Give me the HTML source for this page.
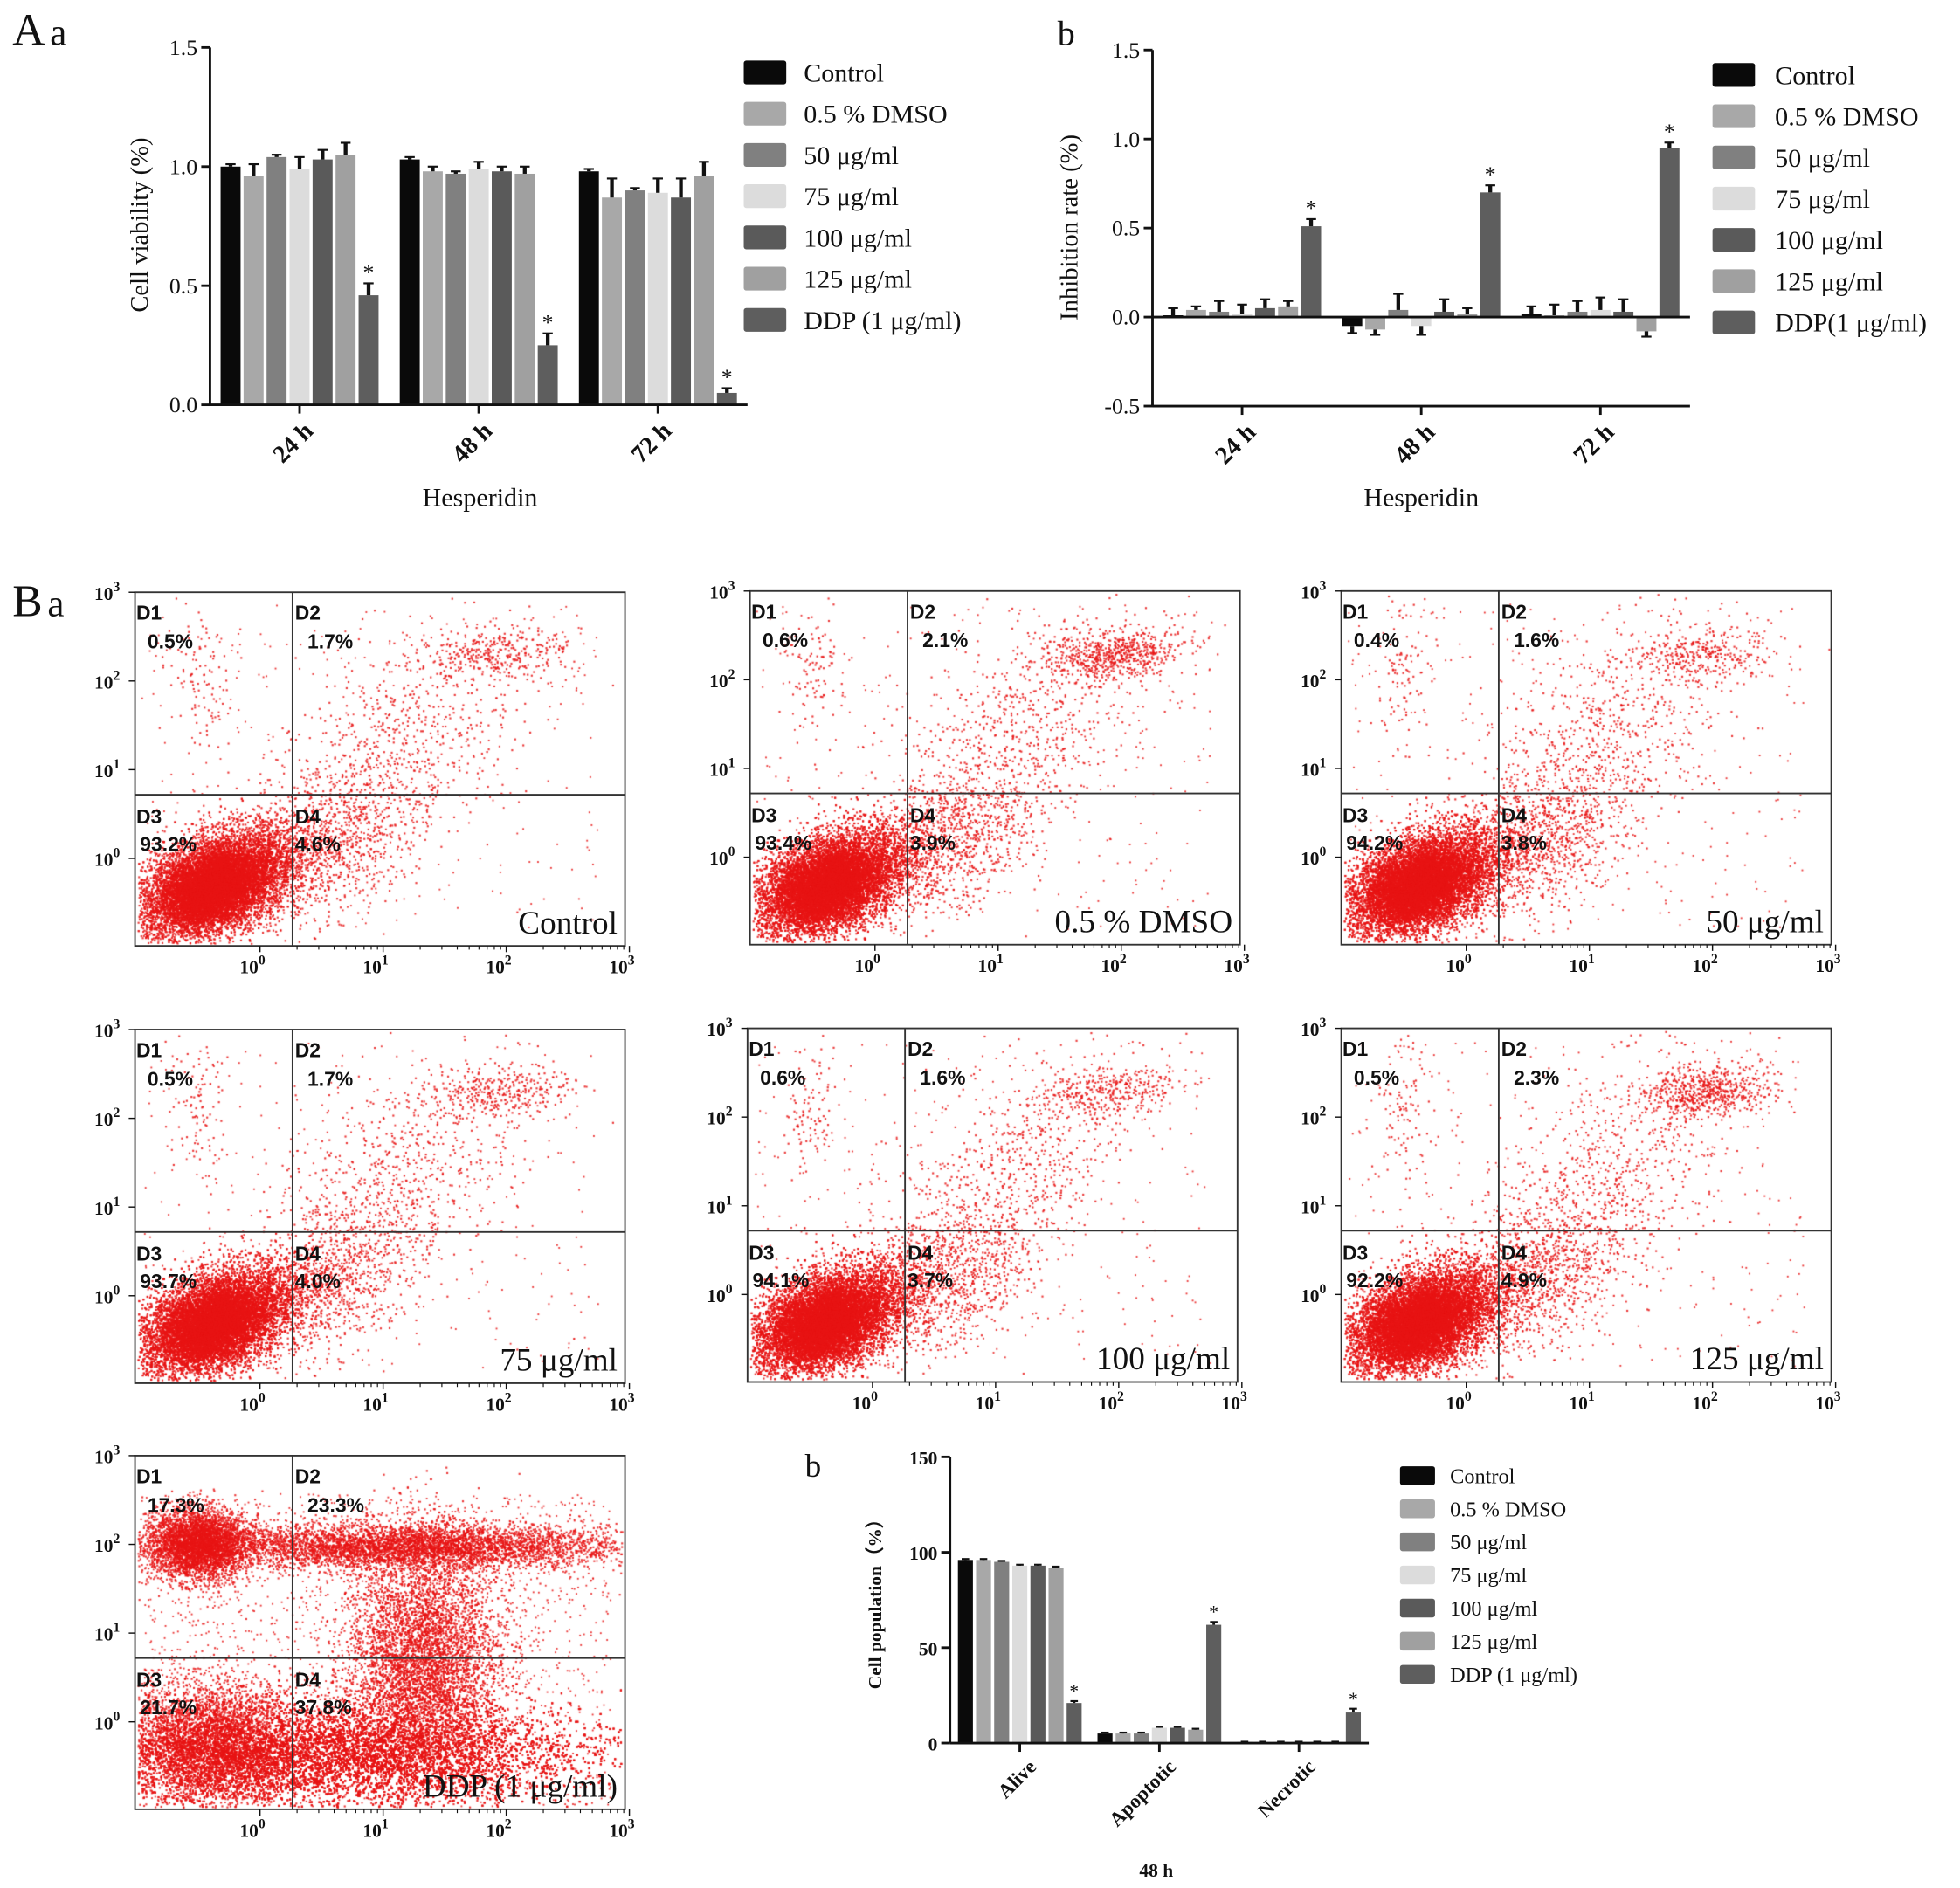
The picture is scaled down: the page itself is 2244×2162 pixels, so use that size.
<!DOCTYPE html>
<html><head><meta charset="utf-8">
<style>
html,body{margin:0;padding:0;background:#fff;}
#wrap{position:relative;width:2244px;height:2162px;overflow:hidden;}
canvas,svg{position:absolute;left:0;top:0;}
</style></head>
<body>
<div id="wrap">
<canvas id="dots" width="2244" height="2162"></canvas>
<svg id="svg" width="2244" height="2162" viewBox="0 0 1568 1511" preserveAspectRatio="none"></svg>
</div>
<script>
// ---- data ----
const seriesNames=['Control','0.5 % DMSO','50 μg/ml','75 μg/ml','100 μg/ml','125 μg/ml','DDP (1 μg/ml)'];
const seriesColors=['#0a0a0a','#a8a8a8','#808080','#dcdcdc','#5a5a5a','#a0a0a0','#5e5e5e'];
const timeGroups=['24 h','48 h','72 h'];
const viabTicks=[0,0.5,1.0,1.5];
const viabVals=[[1.00,1.03,0.98],[0.96,0.98,0.87],[1.04,0.97,0.90],[0.99,0.99,0.89],[1.03,0.98,0.87],[1.05,0.97,0.96],[0.46,0.25,0.05]];
const viabErr=[[0.01,0.01,0.01],[0.05,0.02,0.08],[0.01,0.01,0.01],[0.05,0.03,0.06],[0.04,0.02,0.08],[0.05,0.03,0.06],[0.05,0.05,0.02]];
const inhTicks=[-0.5,0,0.5,1.0,1.5];
const inhVals=[[0.01,-0.05,0.02],[0.04,-0.07,0.01],[0.03,0.04,0.03],[0.02,-0.05,0.04],[0.05,0.03,0.03],[0.06,0.02,-0.08],[0.51,0.70,0.95]];
const inhErr=[[0.04,0.04,0.04],[0.02,0.03,0.06],[0.06,0.09,0.06],[0.05,0.05,0.07],[0.05,0.07,0.07],[0.03,0.03,0.03],[0.04,0.04,0.03]];
const popGroups=['Alive','Apoptotic','Necrotic'];
const popTicks=[0,50,100,150];
const popVals=[[96,5,0.5],[96,5,0.5],[95,5,0.5],[93,8,0.5],[93,8,0.5],[92,7,0.5],[21,62,16]];
const popErr=[[0.5,0.5,0.2],[0.5,0.5,0.2],[0.5,0.5,0.2],[0.5,0.5,0.2],[0.5,0.5,0.2],[0.5,0.5,0.2],[1,1.5,2]];
const flowNames=['Control','0.5 % DMSO','50 μg/ml','75 μg/ml','100 μg/ml','125 μg/ml','DDP (1 μg/ml)'];
const flowD1=['0.5%','0.6%','0.4%','0.5%','0.6%','0.5%','17.3%'];
const flowD2=['1.7%','2.1%','1.6%','1.7%','1.6%','2.3%','23.3%'];
const flowD3=['93.2%','93.4%','94.2%','93.7%','94.1%','92.2%','21.7%'];
const flowD4=['4.6%','3.9%','3.8%','4.0%','3.7%','4.9%','37.8%'];

// ---- helpers ----
const NS='http://www.w3.org/2000/svg';
const svg=document.getElementById('svg');
function mk(tag,attrs,parent){const e=document.createElementNS(NS,tag);for(const k in attrs)e.setAttribute(k,attrs[k]);(parent||svg).appendChild(e);return e;}
function txt(x,y,s,size,opts,parent){opts=opts||{};const t=mk('text',{x:x,y:y,'font-size':size,'font-family':opts.sans?'"Liberation Sans",sans-serif':'"Liberation Serif",serif','text-anchor':opts.anchor||'start','font-weight':opts.bold?'bold':'normal',fill:'#111'},parent);if(opts.rot)t.setAttribute('transform','rotate('+opts.rot+' '+x+' '+y+')');t.textContent=s;return t;}
function line(x1,y1,x2,y2,w,parent,c){return mk('line',{x1:x1,y1:y1,x2:x2,y2:y2,stroke:c||'#111','stroke-width':w||1.5},parent);}

function barChart(cfg){
  const g=mk('g',{});
  
  
  const y=v=>cfg.y0-(v-cfg.vmin)*(cfg.y0-cfg.y1)/(cfg.vmax-cfg.vmin);
  const gw=(cfg.xr-cfg.xl)/cfg.groups.length;
  const zeroY=y(0);
  for(let s=0;s<cfg.vals.length;s++){
    for(let gi=0;gi<cfg.groups.length;gi++){
      const cx=cfg.xl+(gi+0.5)*gw;
      const bx=cx-cfg.step*3.5+s*cfg.step+(cfg.step-cfg.bw)/2;
      const v=cfg.vals[s][gi], e=cfg.err[s][gi];
      const top=Math.min(y(v),zeroY), h=Math.abs(y(v)-zeroY);
      const r=mk('rect',{x:bx,y:top,width:cfg.bw,height:Math.max(h,0.8),fill:seriesColors[s]},g);
      
      
      const ex=bx+cfg.bw/2, ey=y(v+(v>=0?e:-e));
      line(ex,y(v),ex,ey,cfg.ebw||3,g);
      line(ex-cfg.bw*0.25,ey,ex+cfg.bw*0.25,ey,1.5,g);
      if(s===6&&cfg.star){txt(ex,ey-3,'*',cfg.starSize||18,{anchor:'middle'},g);}
    }
  }
  line(cfg.xl,cfg.y1,cfg.xl,cfg.y0,2,g);
  line(cfg.xl,cfg.y0,cfg.xr,cfg.y0,2,g);
  if(cfg.vmin<0) line(cfg.xl,zeroY,cfg.xr,zeroY,2,g);
  cfg.ticks.forEach(t=>{line(cfg.xl-7,y(t),cfg.xl,y(t),2,g);
    const tl=txt(cfg.xl-10,y(t)+6,cfg.tickFmt(t),cfg.tickSize,{anchor:'end',bold:cfg.boldTicks},g);
    });
  cfg.groups.forEach((n,gi)=>{const cx=cfg.xl+(gi+0.5)*gw;line(cx,cfg.y0,cx,cfg.y0+7,2,g);
    const tl=txt(cx+cfg.lblDx,cfg.y0+cfg.lblDy,n,cfg.lblSize,{anchor:'end',rot:-45,bold:true},g);
    });
  const lg=mk('g',{},g);
  
  cfg.legNames.forEach((n,i)=>{const ly=cfg.legY+i*cfg.legStep;
    mk('rect',{x:cfg.legX,y:ly-cfg.swH/2,width:cfg.swW,height:cfg.swH,fill:seriesColors[i],rx:2},lg);
    const t=txt(cfg.legTX,ly+cfg.legSize*0.35,n,cfg.legSize,{},lg);
    });
  return g;
}

txt(10,36,'A',36,{});txt(40,36,'a',30,{});
barChart({name:'viability-chart',groups:timeGroups,vals:viabVals,err:viabErr,ticks:viabTicks,vmin:0,vmax:1.5,y0:324,y1:38,xl:168,xr:598,step:18.4,bw:16,star:true,
 tickFmt:t=>t.toFixed(1),tickSize:18,lblDx:12,lblDy:22,lblSize:20,legNames:seriesNames,legX:595,legTX:643,legY:58,legStep:33,swW:34,swH:19,legSize:21});
txt(384,405,'Hesperidin',21,{anchor:'middle'});
txt(118,180,'Cell viability (%)',20,{anchor:'middle',rot:-90});
txt(846,36,'b',28,{});
barChart({name:'inhibition-chart',groups:timeGroups,vals:inhVals,err:inhErr,ticks:inhTicks,vmin:-0.5,vmax:1.5,y0:325,y1:40,xl:922,xr:1352,step:18.4,bw:16,star:true,
 tickFmt:t=>t.toFixed(1),tickSize:18,lblDx:12,lblDy:22,lblSize:20,legNames:['Control','0.5 % DMSO','50 μg/ml','75 μg/ml','100 μg/ml','125 μg/ml','DDP(1 μg/ml)'],legX:1370,legTX:1420,legY:60,legStep:33,swW:34,swH:19,legSize:21});
txt(1137,405,'Hesperidin',21,{anchor:'middle'});
txt(862,182,'Inhibition rate (%)',20,{anchor:'middle',rot:-90});
txt(644,1182,'b',26,{});
barChart({name:'population-chart',groups:popGroups,vals:popVals,err:popErr,ticks:popTicks,vmin:0,vmax:150,y0:1395,y1:1166,xl:760,xr:1095,step:14.5,bw:12,ebw:2,star:true,starSize:15,boldTicks:true,
 tickFmt:t=>String(t),tickSize:15,lblDx:14,lblDy:20,lblSize:16,legNames:seriesNames,legX:1120,legTX:1160,legY:1181,legStep:26.5,swW:28,swH:15,legSize:17});
txt(925,1502,'48 h',15,{anchor:'middle',bold:true});
txt(705,1280,'Cell population（%）',15,{anchor:'middle',rot:-90,bold:true});

txt(10,493,'B',36,{});txt(38,493,'a',30,{});
const frames=[[108,474],[600,473],[1073,473],[108,824],[598,823],[1073,823],[108,1165]];
const FW=392, FH=283, QX=126, QY=162;
const cv=document.getElementById('dots');const ctx=cv.getContext('2d');
ctx.scale(2244/1568,2162/1511);
let seed=12345;function rnd(){seed=(seed*1103515245+12345)%2147483648;return seed/2147483648;}
function gauss(){let u=rnd()||1e-9,v=rnd();return Math.sqrt(-2*Math.log(u))*Math.cos(2*Math.PI*v);}
function cloud(fx,fy,cx,cy,sx,sy,rho,n){
  for(let i=0;i<n;i++){const a=gauss(),b=gauss();let x=cx+sx*a,y=cy+sy*(rho*a+Math.sqrt(1-rho*rho)*b);
    if(x<2||x>FW-2||y<2||y>FH-2)continue;ctx.fillRect(fx+x,fy+y,1.5,1.5);}
}
function uniform(fx,fy,x0,y0,x1,y1,n){for(let i=0;i<n;i++){ctx.fillRect(fx+x0+rnd()*(x1-x0),fy+y0+rnd()*(y1-y0),1.3,1.3);}}
frames.forEach((f,i)=>{
  const [fx,fy]=f;
  const g=mk('g',{});
  
  
  ctx.fillStyle='rgba(232,20,20,0.85)';
  if(i<6){
    cloud(fx,fy,65,232,32,22,-0.45,9000);
    cloud(fx,fy,60,236,20,15,-0.3,6000);
    cloud(fx,fy,150,205,40,30,-0.5,900);
    cloud(fx,fy,200,130,55,55,-0.6,800);
    cloud(fx,fy,290,50,28,10,-0.2,i===1||i===5?600:300);
    uniform(fx,fy,5,10,370,270,350);
    cloud(fx,fy,50,60,12,30,0,100);
  } else {
    cloud(fx,fy,50,70,20,14,0,4000);
    cloud(fx,fy,215,72,90,9,0,5000);
    cloud(fx,fy,230,165,30,50,0,6000);
    cloud(fx,fy,150,238,105,20,0,16000);
    cloud(fx,fy,60,230,35,25,0,4000);
    uniform(fx,fy,5,30,380,280,2000);
  }
  mk('rect',{x:fx,y:fy,width:FW,height:FH,fill:'none',stroke:'#333','stroke-width':1.3},g);
  line(fx+QX,fy,fx+QX,fy+FH,1.3,g,'#333');line(fx,fy+QY,fx+FW,fy+QY,1.3,g,'#333');
  [3,2,1,0].forEach((p,k)=>{const ty=fy+k*71;line(fx-5,ty,fx,ty,1,g);
    const t=txt(fx-12,ty+6,'10',15,{anchor:'end',bold:true},g);const s=mk('tspan',{dy:-7,'font-size':11},t);s.textContent=p;});
  [0,1,2,3].forEach((p,k)=>{const tx=fx+100+k*98.5;line(tx,fy+FH,tx,fy+FH+5,1,g);
    const t=txt(tx-6,fy+FH+22,'10',15,{anchor:'middle',bold:true},g);const s=mk('tspan',{dy:-7,'font-size':11},t);s.textContent=p;});
  for(let k=0;k<3;k++)for(let m=2;m<10;m++){const tx=fx+100+k*98.5+98.5*Math.log10(m);line(tx,fy+FH,tx,fy+FH+3,0.8,g);}
  const o={sans:true,bold:true};
  txt(fx+1,fy+22,'D1',16,o,g);txt(fx+10,fy+45,flowD1[i],16,o,g);
  txt(fx+QX+2,fy+22,'D2',16,o,g);txt(fx+QX+12,fy+45,flowD2[i],16,o,g);
  txt(fx+1,fy+QY+23,'D3',16,o,g);txt(fx+4,fy+QY+45,flowD3[i],16,o,g);
  txt(fx+QX+2,fy+QY+23,'D4',16,o,g);txt(fx+QX+2,fy+QY+45,flowD4[i],16,o,g);
  const nm=txt(fx+FW-6,fy+FH-10,flowNames[i],26,{anchor:'end'},g);
  
});
</script>
</body></html>
